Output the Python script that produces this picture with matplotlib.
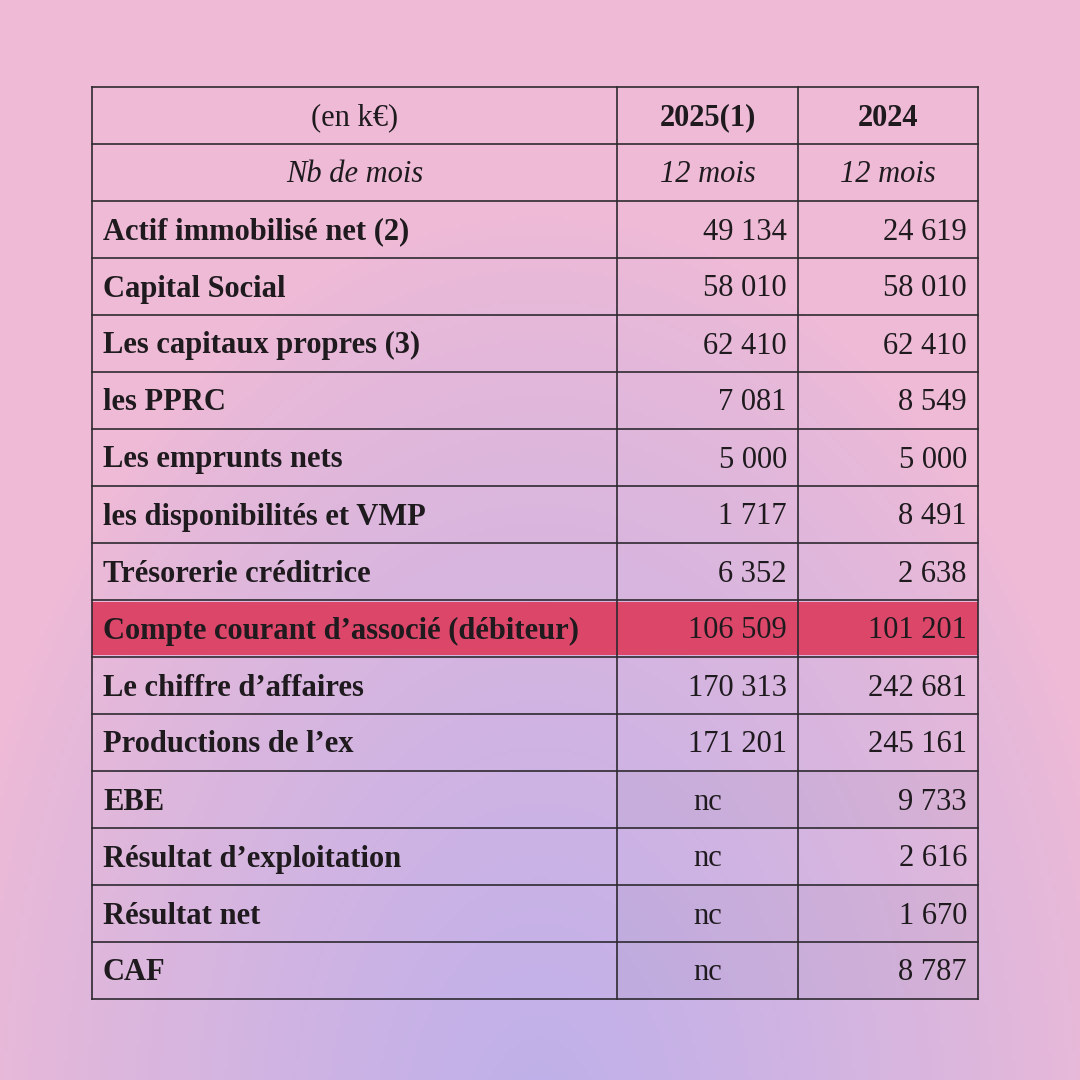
#!/usr/bin/env python3
# -*- coding: utf-8 -*-
"""Tableau financier (en k€) sur fond dégradé rose / lavande."""
import numpy as np
import matplotlib
matplotlib.use("Agg")
import matplotlib.pyplot as plt
from matplotlib.patches import Rectangle

# --- données ---
header = ["(en k€)", "2025(1)", "2024"]
sub_header = ["Nb de mois", "12 mois", "12 mois"]
labels = [
    "Actif immobilisé net (2)",
    "Capital Social",
    "Les capitaux propres (3)",
    "les PPRC",
    "Les emprunts nets",
    "les disponibilités et VMP",
    "Trésorerie créditrice",
    "Compte courant d’associé (débiteur)",
    "Le chiffre d’affaires",
    "Productions de l’ex",
    "EBE",
    "Résultat d’exploitation",
    "Résultat net",
    "CAF",
]
val_2025 = ["49 134", "58 010", "62 410", "7 081", "5 000", "1 717", "6 352",
            "106 509", "170 313", "171 201", "nc", "nc", "nc", "nc"]
val_2024 = ["24 619", "58 010", "62 410", "8 549", "5 000", "8 491", "2 638",
            "101 201", "242 681", "245 161", "9 733", "2 616", "1 670", "8 787"]
highlight_rows = ["Compte courant d’associé (débiteur)"]
shaded_rows = ["EBE", "Résultat net", "CAF"]

# --- mise en page (pixels) ---
W = H = 1080
X0, X1, X2, X3 = 92, 617, 798, 978
Y0, ROW_H = 87, 57
FONT = "Liberation Serif"
FS = 22
INK = "#1e1a1e"
LINE = "#2e2a30"
BASE = 10  # décalage de la ligne de base sous le centre de la cellule

fig = plt.figure(figsize=(10.8, 10.8), dpi=100)
ax = fig.add_axes([0, 0, 1, 1])
ax.set_xlim(0, W)
ax.set_ylim(H, 0)
ax.axis("off")

# fond : rose sur les bords, lavande en bas au centre
yy, xx = np.mgrid[0:1:270j, 0:1:270j]
pink = np.array([238, 186, 214]) / 255
lav = np.array([190, 176, 234]) / 255
d = np.sqrt(((xx - 0.5) / 0.55) ** 2 + ((yy - 1.05) / 0.85) ** 2)
t = np.clip(1 - d, 0, 1)[..., None] ** 0.8
bg = pink * (1 - t) + lav * t
ax.imshow(bg, extent=(0, W, H, 0), aspect="auto", zorder=0)

n_rows = 2 + len(labels)
Y_END = Y0 + n_rows * ROW_H


def row_y(i):
    return Y0 + i * ROW_H + ROW_H / 2 + BASE


def put(x, y, s, ha, **kw):
    ax.text(x, y, s, ha=ha, va="baseline", fontsize=FS, family=FONT,
            color=INK, zorder=3, **kw)


# en-têtes
put((X0 + X1) / 2, row_y(0), header[0], "center")
put((X1 + X2) / 2, row_y(0), header[1], "center", weight="bold")
put((X2 + X3) / 2, row_y(0), header[2], "center", weight="bold")
for txt, xc in zip(sub_header, [(X0 + X1) / 2, (X1 + X2) / 2, (X2 + X3) / 2]):
    put(xc, row_y(1), txt, "center", style="italic")

# lignes de données
for k, (lab, a, b) in enumerate(zip(labels, val_2025, val_2024)):
    i = k + 2
    top = Y0 + i * ROW_H
    if lab in highlight_rows:
        ax.add_patch(Rectangle((X0, top + 2), X3 - X0, ROW_H - 4,
                               facecolor="#dc4769", edgecolor="none", zorder=1))
    if lab in shaded_rows:
        ax.add_patch(Rectangle((X1, top), X3 - X1, ROW_H,
                               facecolor="#7a6a8c", alpha=0.08,
                               edgecolor="none", zorder=1))
    put(X0 + 11, row_y(i), lab, "left", weight="bold")
    if a == "nc":
        put((X1 + X2) / 2, row_y(i), a, "center")
    else:
        put(X2 - 11, row_y(i), a, "right")
    put(X3 - 11, row_y(i), b, "right")

# grille
for i in range(n_rows + 1):
    y = Y0 + i * ROW_H
    ax.plot([X0, X3], [y, y], color=LINE, lw=1.2, zorder=4)
for x in (X0, X1, X2, X3):
    ax.plot([x, x], [Y0, Y_END], color=LINE, lw=1.2, zorder=4)

fig.savefig("out.png", dpi=100)
